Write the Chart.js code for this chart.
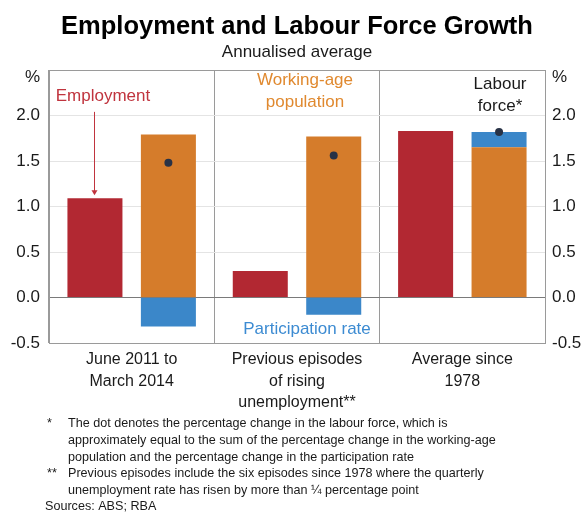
<!DOCTYPE html>
<html>
<head>
<meta charset="utf-8">
<title>Employment and Labour Force Growth</title>
<script src="https://cdn.jsdelivr.net/npm/chart.js@4.4.1/dist/chart.umd.min.js"></script>
<style>
  html, body { margin: 0; padding: 0; background: #fff; }
</style>
</head>
<body>
<canvas id="growthChart" width="585" height="515"></canvas>
<script>
const periods = [
    ['June 2011 to', 'March 2014'],
    ['Previous episodes', 'of rising', 'unemployment**'],
    ['Average since', '1978']
];
const employment = [1.09, 0.29, 1.83];
const workingAgePop = [1.79, 1.77, 1.65];
const participation = [-0.32, -0.19, 0.17];
const labourForce = [1.48, 1.56, 1.82]; // drawn as dots
const yTicks = [-0.5, 0, 0.5, 1, 1.5, 2, 2.5];

const footnotes = [
    ['*', 'The dot denotes the percentage change in the labour force, which is'],
    ['', 'approximately equal to the sum of the percentage change in the working-age'],
    ['', 'population and the percentage change in the participation rate'],
    ['**', 'Previous episodes include the six episodes since 1978 where the quarterly'],
    ['', 'unemployment rate has risen by more than \u00bc percentage point']
];

const FONT = "'Liberation Sans', Arial, Helvetica, sans-serif";
const RED = '#b22832';
const ORANGE = '#d57c2b';
const BLUE = '#3b87c9';
const FRAME = '#9a9a9a';

Chart.defaults.font.family = FONT;
Chart.defaults.color = '#1a1a1a';

// Labels, arrow, dots and footnotes on top of the bars
const chartNotes = {
    id: 'chartNotes',
    afterDatasetsDraw(chart) {
        const { ctx, scales: { y } } = chart;
        const popBars = chart.getDatasetMeta(1).data;
        ctx.save();
        ctx.fillStyle = '#283246';
        popBars.forEach((bar, i) => {
            ctx.beginPath();
            ctx.arc(bar.x, y.getPixelForValue(labourForce[i]), 4, 0, Math.PI * 2);
            ctx.fill();
        });
        ctx.restore();
    },
    afterDraw(chart) {
        const { ctx, chartArea, scales: { x, y } } = chart;
        const empBars = chart.getDatasetMeta(0).data;
        const popBars = chart.getDatasetMeta(1).data;
        ctx.save();
        ctx.textAlign = 'center';
        ctx.textBaseline = 'middle';
        ctx.font = '17px ' + FONT;

        ctx.fillStyle = '#c0343e';
        ctx.fillText('Employment', empBars[0].x + 8, y.getPixelForValue(2.21));

        // arrow down to the first employment bar
        const ax = Math.round(empBars[0].x) - 0.5;
        const tip = y.getPixelForValue(employment[0]) - 3;
        ctx.strokeStyle = '#c0343e';
        ctx.lineWidth = 1;
        ctx.beginPath();
        ctx.moveTo(ax, y.getPixelForValue(2.04));
        ctx.lineTo(ax, tip - 4);
        ctx.stroke();
        ctx.beginPath();
        ctx.moveTo(ax - 3, tip - 5);
        ctx.lineTo(ax + 3, tip - 5);
        ctx.lineTo(ax, tip);
        ctx.closePath();
        ctx.fill();

        ctx.fillStyle = '#e0892f';
        ctx.fillText('Working-age', x.getPixelForValue(1) + 8, y.getPixelForValue(2.39));
        ctx.fillText('population', x.getPixelForValue(1) + 8, y.getPixelForValue(2.14));

        ctx.fillStyle = '#1a1a1a';
        ctx.fillText('Labour', popBars[2].x + 1, y.getPixelForValue(2.34));
        ctx.fillText('force*', popBars[2].x + 1, y.getPixelForValue(2.10));

        ctx.fillStyle = '#3c8bd2';
        ctx.fillText('Participation rate', x.getPixelForValue(1) + 10, y.getPixelForValue(-0.35));

        // unit markers above both axes
        ctx.fillStyle = '#1a1a1a';
        ctx.textAlign = 'right';
        ctx.fillText('%', chartArea.left - 9, y.getPixelForValue(2.42));
        ctx.textAlign = 'left';
        ctx.fillText('%', chartArea.right + 7, y.getPixelForValue(2.42));

        // footnotes
        ctx.font = '12.6px ' + FONT;
        ctx.fillStyle = '#1a1a1a';
        footnotes.forEach(([mark, text], i) => {
            const ty = 424 + i * 16.6;
            if (mark) ctx.fillText(mark, 47, ty);
            ctx.fillText(text, 68, ty);
        });
        ctx.fillText('Sources: ABS; RBA', 45, 507);
        ctx.restore();
    }
};

const tickLabel = v => (v === 2.5 ? '' : v.toFixed(1));
const gridColour = c => {
    const v = c.tick.value;
    if (v === 0) return '#7a7a7a';
    if (v === 2.5 || v === -0.5) return FRAME;
    return '#e4e4e4';
};

new Chart(document.getElementById('growthChart'), {
    type: 'bar',
    data: {
        labels: periods,
        datasets: [
            { label: 'Employment', data: employment, backgroundColor: RED, stack: 'emp' },
            { label: 'Working-age population', data: workingAgePop, backgroundColor: ORANGE, stack: 'lf' },
            { label: 'Participation rate', data: participation, backgroundColor: BLUE, stack: 'lf' }
        ]
    },
    options: {
        responsive: false,
        animation: false,
        categoryPercentage: 0.8885,
        barPercentage: 0.749,
        layout: { padding: 0 },
        plugins: {
            legend: { display: false },
            tooltip: { enabled: false },
            title: {
                display: true,
                fullSize: false,
                text: 'Employment and Labour Force Growth',
                color: '#000',
                font: { size: 25.5, weight: 'bold' },
                padding: { top: 12, bottom: 0 }
            },
            subtitle: {
                display: true,
                fullSize: false,
                text: 'Annualised average',
                color: '#1a1a1a',
                font: { size: 17 },
                padding: { top: 0, bottom: 7 }
            }
        },
        scales: {
            x: {
                stacked: true,
                grid: { offset: true, color: FRAME, drawTicks: false },
                border: { display: true, color: FRAME },
                ticks: { font: { size: 16, lineHeight: 1.35 }, padding: 6, color: '#1a1a1a', maxRotation: 0 },
                afterFit: s => { s.height = 172; }
            },
            y: {
                stacked: true,
                min: -0.5,
                max: 2.5,
                afterBuildTicks: s => { s.ticks = yTicks.map(v => ({ value: v })); },
                grid: { color: gridColour, drawTicks: false },
                border: { display: true, color: FRAME },
                ticks: { font: { size: 17 }, padding: 9, callback: tickLabel },
                afterFit: s => { s.width = 49; }
            },
            y2: {
                position: 'right',
                min: -0.5,
                max: 2.5,
                afterBuildTicks: s => { s.ticks = yTicks.map(v => ({ value: v })); },
                grid: { drawOnChartArea: false, drawTicks: false },
                border: { display: true, color: FRAME },
                ticks: { font: { size: 17 }, padding: 7, callback: tickLabel },
                afterFit: s => { s.width = 40; }
            }
        }
    },
    plugins: [chartNotes]
});
</script>
</body>
</html>
